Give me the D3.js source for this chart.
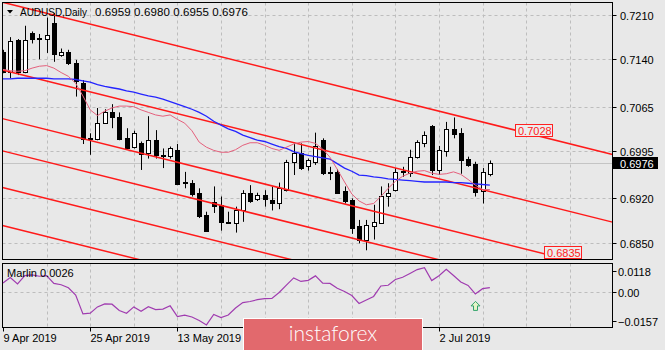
<!DOCTYPE html>
<html>
<head>
<meta charset="utf-8">
<script src="https://cdn.jsdelivr.net/npm/d3@7"></script>
<style>
  body { margin: 0; background: #e8e8e8; }
  svg { display: block; }
  text { font-family: "Liberation Sans", Arial, sans-serif; }
</style>
</head>
<body>
<script>
// AUDUSD daily bars, 9 Apr 2019 – 11 Jul 2019
const dates = [
  "2019-04-09","2019-04-10","2019-04-11","2019-04-12","2019-04-15","2019-04-16","2019-04-17","2019-04-18","2019-04-19","2019-04-22",
  "2019-04-23","2019-04-24","2019-04-25","2019-04-26","2019-04-29","2019-04-30","2019-05-01","2019-05-02","2019-05-03","2019-05-06",
  "2019-05-07","2019-05-08","2019-05-09","2019-05-10","2019-05-13","2019-05-14","2019-05-15","2019-05-16","2019-05-17","2019-05-20",
  "2019-05-21","2019-05-22","2019-05-23","2019-05-24","2019-05-27","2019-05-28","2019-05-29","2019-05-30","2019-05-31","2019-06-03",
  "2019-06-04","2019-06-05","2019-06-06","2019-06-07","2019-06-10","2019-06-11","2019-06-12","2019-06-13","2019-06-14","2019-06-17",
  "2019-06-18","2019-06-19","2019-06-20","2019-06-21","2019-06-24","2019-06-25","2019-06-26","2019-06-27","2019-06-28","2019-07-01",
  "2019-07-02","2019-07-03","2019-07-04","2019-07-05","2019-07-08","2019-07-09","2019-07-10","2019-07-11"
];
const open = [
  0.7152,0.7120,0.7170,0.7120,0.7181,0.7173,0.7172,0.7198,0.7148,0.7152,
  0.7134,0.7103,0.7015,0.7013,0.7039,0.7057,0.7048,0.7015,0.7001,0.7008,
  0.6992,0.7013,0.6989,0.6987,0.6997,0.6946,0.6945,0.6928,0.6894,0.6915,
  0.6910,0.6883,0.6882,0.6901,0.6929,0.6919,0.6926,0.6918,0.6913,0.6933,
  0.6978,0.6992,0.6970,0.6977,0.7012,0.6962,0.6962,0.6931,0.6918,0.6876,
  0.6854,0.6876,0.6882,0.6925,0.6933,0.6961,0.6961,0.6986,0.7008,0.7035,
  0.6965,0.6994,0.7030,0.7024,0.6982,0.6974,0.6931,0.6959
];
const high = [
  0.7155,0.7175,0.7172,0.7193,0.7184,0.7180,0.7206,0.7213,0.7157,0.7155,
  0.7139,0.7107,0.7023,0.7063,0.7061,0.7069,0.7056,0.7031,0.7027,0.7010,
  0.7050,0.7028,0.6999,0.7002,0.7006,0.6962,0.6949,0.6936,0.6899,0.6939,
  0.6923,0.6899,0.6907,0.6933,0.6941,0.6929,0.6933,0.6939,0.6945,0.6981,
  0.7007,0.7007,0.6983,0.7024,0.7015,0.6970,0.6966,0.6939,0.6920,0.6886,
  0.6886,0.6910,0.6939,0.6944,0.6968,0.6970,0.6997,0.7012,0.7026,0.7036,
  0.7003,0.7041,0.7048,0.7031,0.6986,0.6978,0.6968,0.6980
];
const low = [
  0.7118,0.7110,0.7115,0.7118,0.7165,0.7140,0.7150,0.7136,0.7144,0.7131,
  0.7081,0.7006,0.6989,0.7012,0.7038,0.7031,0.7012,0.6998,0.6999,0.6965,
  0.6983,0.6983,0.6968,0.6983,0.6941,0.6936,0.6923,0.6889,0.6867,0.6897,
  0.6869,0.6881,0.6866,0.6883,0.6913,0.6916,0.6907,0.6901,0.6903,0.6931,
  0.6957,0.6965,0.6964,0.6973,0.6957,0.6949,0.6928,0.6912,0.6864,0.6849,
  0.6838,0.6855,0.6881,0.6907,0.6931,0.6954,0.6954,0.6983,0.7001,0.6957,
  0.6957,0.6986,0.7015,0.6959,0.6970,0.6923,0.6912,0.6955
];
const close = [
  0.7120,0.7169,0.7120,0.7170,0.7172,0.7174,0.7178,0.7149,0.7152,0.7135,
  0.7105,0.7015,0.7016,0.7039,0.7056,0.7049,0.7013,0.6999,0.7023,0.6991,
  0.7012,0.6990,0.6988,0.6999,0.6944,0.6945,0.6928,0.6892,0.6869,0.6908,
  0.6883,0.6882,0.6902,0.6928,0.6916,0.6925,0.6919,0.6913,0.6936,0.6978,
  0.6992,0.6968,0.6980,0.7003,0.6960,0.6961,0.6929,0.6915,0.6873,0.6854,
  0.6878,0.6882,0.6924,0.6929,0.6962,0.6963,0.6986,0.7010,0.7020,0.6965,
  0.6996,0.7029,0.7022,0.6982,0.6973,0.6929,0.6961,0.6976
];
// slow moving average (blue)
const maSlow = [
  0.7109,0.7109,0.7110,0.7110,0.7110,0.7110,0.7110,0.7109,0.7109,0.7109,
  0.7108,0.7106,0.7104,0.7100,0.7097,0.7095,0.7093,0.7090,0.7088,0.7085,
  0.7082,0.7080,0.7077,0.7073,0.7069,0.7065,0.7061,0.7056,0.7050,0.7042,
  0.7036,0.7030,0.7026,0.7020,0.7016,0.7012,0.7010,0.7006,0.7002,0.6999,
  0.6994,0.6991,0.6988,0.6986,0.6984,0.6982,0.6975,0.6968,0.6963,0.6957,
  0.6956,0.6954,0.6953,0.6951,0.6950,0.6949,0.6948,0.6947,0.6946,0.6946,
  0.6946,0.6946,0.6945,0.6945,0.6944,0.6943,0.6942,0.6941
];
// fast moving average (pink)
const maFast = [
  0.7124,0.7122,0.7121,0.7122,0.7126,0.7129,0.7130,0.7126,0.7119,0.7113,
  0.7102,0.7082,0.7060,0.7051,0.7058,0.7063,0.7066,0.7066,0.7065,0.7060,
  0.7056,0.7052,0.7050,0.7052,0.7045,0.7039,0.7027,0.7009,0.7001,0.6996,
  0.6993,0.6993,0.6997,0.7004,0.7008,0.7008,0.7004,0.6999,0.6996,0.7001,
  0.7006,0.7009,0.7010,0.7007,0.6998,0.6985,0.6966,0.6946,0.6927,0.6916,
  0.6910,0.6912,0.6923,0.6936,0.6947,0.6955,0.6960,0.6963,0.6964,0.6960,
  0.6958,0.6959,0.6962,0.6958,0.6950,0.6941,0.6934,0.6934
];
// Marlin oscillator
const marlin = [
  0.0052,0.0082,0.0046,0.0092,0.0096,0.0089,0.0092,0.0049,0.0042,0.0025,
  -0.0015,-0.0120,-0.0116,-0.0081,-0.0064,-0.0066,-0.0101,-0.0116,-0.0081,-0.0105,
  -0.0080,-0.0096,-0.0093,-0.0075,-0.0135,-0.0127,-0.0137,-0.0156,-0.0181,-0.0123,
  -0.0140,-0.0126,-0.0087,-0.0057,-0.0051,-0.0041,-0.0035,-0.0034,-0.0001,0.0040,
  0.0080,0.0060,0.0066,0.0091,0.0050,0.0049,0.0022,0.0004,-0.0018,-0.0062,
  -0.0043,-0.0023,0.0035,0.0039,0.0071,0.0083,0.0104,0.0126,0.0136,0.0065,
  0.0092,0.0128,0.0093,0.0057,0.0038,-0.0009,0.0020,0.0026
];
const priceTicks = [0.7210, 0.7140, 0.7065, 0.6995, 0.6920, 0.6850];
const marlinTicks = [0.0118, 0.00, -0.0157];
// parallel channel lines: [bar, price] at two anchor bars
const channelLines = [
  [[0, 0.7230], [60, 0.7058]],
  [[0, 0.7123], [60, 0.6951]],
  [[0, 0.7046], [60, 0.6874]],
  [[0, 0.6995], [60, 0.6823]],
  [[0, 0.6937], [60, 0.6765]],
  [[0, 0.6877], [60, 0.6705]]
];
const levelLabels = [0.7028, 0.6835];
const signalBars = [65];

const W = 665, H = 350;
const L = 2.5, R = 612.5, mainTop = 2.5, mainBot = 259.5, subTop = 263.5, subBot = 327.5;
const banner = { x: 243.5, y: 318.5, w: 179, h: 34 };

const svg = d3.select("body").append("svg").attr("width", W).attr("height", H);
svg.append("rect").attr("width", W).attr("height", H).attr("fill", "#e8e8e8");

const x = d3.scaleLinear().domain([0, 60]).range([3, 439]);
const y = d3.scaleLinear().domain([0.6850, 0.7210]).range([242.7, 15]);
const ym = d3.scaleLinear().domain([-0.0157, 0.0118]).range([320.6, 271]);
const px = i => Math.round(x(i)) + 0.5;
const n = close.length;
const idx = d3.range(n);

const defs = svg.append("defs");
defs.append("clipPath").attr("id", "clipMain").append("rect")
  .attr("x", L).attr("y", mainTop).attr("width", R - L).attr("height", mainBot - mainTop);
defs.append("clipPath").attr("id", "clipSub").append("rect")
  .attr("x", L).attr("y", subTop).attr("width", R - L).attr("height", subBot - subTop);

const gridColor = "#bdbdbd";
// vertical grid every 6 bars
const vBars = d3.range(6, 84, 6);
[[mainTop, mainBot], [subTop, subBot]].forEach(([t, b]) => {
  svg.append("g").selectAll("line").data(vBars).join("line")
    .attr("x1", d => px(d)).attr("x2", d => px(d))
    .attr("y1", t).attr("y2", b)
    .attr("stroke", gridColor).attr("stroke-dasharray", "3,3");
});
// horizontal grid
svg.append("g").selectAll("line").data(priceTicks).join("line")
  .attr("x1", L).attr("x2", R)
  .attr("y1", d => Math.round(y(d)) + 0.5).attr("y2", d => Math.round(y(d)) + 0.5)
  .attr("stroke", gridColor).attr("stroke-dasharray", "3,3");
svg.append("line").attr("x1", L).attr("x2", R)
  .attr("y1", Math.round(ym(0)) + 0.5).attr("y2", Math.round(ym(0)) + 0.5)
  .attr("stroke", gridColor).attr("stroke-dasharray", "3,3");

// last price line
const last = n - 1;
svg.append("line").attr("x1", L).attr("x2", R)
  .attr("y1", Math.round(y(close[last])) + 0.5).attr("y2", Math.round(y(close[last])) + 0.5)
  .attr("stroke", "#c4c4c4");

const main = svg.append("g").attr("clip-path", "url(#clipMain)");

// candles
const cg = main.append("g");
cg.selectAll("line.wick").data(idx).join("line").attr("class", "wick")
  .attr("x1", px).attr("x2", px)
  .attr("y1", i => y(high[i])).attr("y2", i => y(low[i]))
  .attr("stroke", "#000");
cg.selectAll("rect.body").data(idx).join("rect").attr("class", "body")
  .attr("x", i => px(i) - 2)
  .attr("width", 4)
  .attr("y", i => Math.round(Math.min(y(open[i]), y(close[i]))) + 0.5)
  .attr("height", i => Math.max(0, Math.round(Math.abs(y(open[i]) - y(close[i])))))
  .attr("fill", i => close[i] >= open[i] ? "#fff" : "#000")
  .attr("stroke", "#000");

// channel lines
const xL = x.invert(L), xR = x.invert(R);
const at = (d, b) => { const [[b0, p0], [b1, p1]] = d; return p0 + (p1 - p0) * (b - b0) / (b1 - b0); };
main.append("g").selectAll("line").data(channelLines).join("line")
  .attr("x1", L).attr("x2", R)
  .attr("y1", d => y(at(d, xL)))
  .attr("y2", d => y(at(d, xR)))
  .attr("stroke", "#ff1a1a").attr("stroke-width", 1.5);

// moving averages
main.append("path").datum(maSlow)
  .attr("d", d3.line().x((d, i) => x(i)).y(d => y(d)))
  .attr("fill", "none").attr("stroke", "#2424ff").attr("stroke-width", 1.3);
main.append("path").datum(maFast)
  .attr("d", d3.line().x((d, i) => x(i)).y(d => y(d)))
  .attr("fill", "none").attr("stroke", "#e4607c").attr("stroke-width", 1);

// level labels on the channel
const labelBars = [70.45, 74.45];
levelLabels.forEach((v, k) => {
  const bx = Math.round(x(labelBars[k])) + 0.5, by = Math.round(y(v)) - 6 + 0.5;
  svg.append("rect").attr("x", bx).attr("y", by).attr("width", 37).attr("height", 12)
    .attr("fill", "#ececec").attr("stroke", "#ff2020");
  svg.append("text").attr("x", bx + 2.5).attr("y", by + 10)
    .attr("font-size", 11).attr("fill", "#ff2020").text(d3.format(".4f")(v));
});

// panel borders
svg.append("rect").attr("x", L).attr("y", mainTop).attr("width", R - L).attr("height", mainBot - mainTop)
  .attr("fill", "none").attr("stroke", "#000");
svg.append("rect").attr("x", L).attr("y", subTop).attr("width", R - L).attr("height", subBot - subTop)
  .attr("fill", "none").attr("stroke", "#000");

// price axis
const pa = svg.append("g");
priceTicks.forEach(v => {
  const yy = Math.round(y(v)) + 0.5;
  pa.append("line").attr("x1", R).attr("x2", R + 4).attr("y1", yy).attr("y2", yy).attr("stroke", "#000");
  pa.append("text").attr("x", 620).attr("y", yy + 4).attr("font-size", 11).attr("fill", "#000")
    .text(d3.format(".4f")(v));
});
// last price tag
{
  const yy = Math.round(y(close[last])) + 0.5;
  svg.append("rect").attr("x", 613).attr("y", yy - 6.5).attr("width", 45).attr("height", 12).attr("fill", "#000");
  svg.append("text").attr("x", 620).attr("y", yy + 4).attr("font-size", 11).attr("fill", "#fff")
    .text(d3.format(".4f")(close[last]));
}

// title
svg.append("path").attr("d", "M7,10 L13,10 L10,13.5 Z").attr("fill", "#000");
svg.append("text").attr("x", 20).attr("y", 16).attr("font-size", 11).attr("fill", "#000")
  .attr("textLength", 67).attr("lengthAdjust", "spacingAndGlyphs")
  .text("AUDUSD,Daily");
svg.append("text").attr("x", 95).attr("y", 16).attr("font-size", 11.5).attr("fill", "#000")
  .attr("textLength", 153).attr("lengthAdjust", "spacing")
  .text([open[last], high[last], low[last], close[last]].map(d3.format(".4f")).join(" "));

// Marlin sub-panel
const sub = svg.append("g").attr("clip-path", "url(#clipSub)");
sub.append("path").datum(marlin)
  .attr("d", d3.line().x((d, i) => x(i)).y(d => ym(d)))
  .attr("fill", "none").attr("stroke", "#a03cb0").attr("stroke-width", 1.2);
svg.append("text").attr("x", 7).attr("y", 277).attr("font-size", 11).attr("fill", "#000")
  .text("Marlin " + d3.format(".4f")(marlin[last]));
marlinTicks.forEach(v => {
  const yy = Math.round(ym(v)) + 0.5;
  svg.append("line").attr("x1", R).attr("x2", R + 4).attr("y1", yy).attr("y2", yy).attr("stroke", "#000");
  svg.append("text").attr("x", 618).attr("y", yy + 4).attr("font-size", 11).attr("fill", "#000")
    .text(v === 0 ? "0.00" : d3.format(".4f")(v));
});
// signal arrows
signalBars.forEach(b => {
  const cx = px(b), top = ym(marlin[b]) + 7.5;
  svg.append("path")
    .attr("d", `M${cx},${top} L${cx + 4.5},${top + 4.5} L${cx + 2},${top + 4.5} L${cx + 2},${top + 9} L${cx - 2},${top + 9} L${cx - 2},${top + 4.5} L${cx - 4.5},${top + 4.5} Z`)
    .attr("fill", "#e6f3c8").attr("stroke", "#2fa36a").attr("stroke-width", 1);
});

// time axis: ticks every 12 bars, labels only where the banner leaves room
const fmt = d3.timeFormat("%-d %b %Y"), parse = d3.timeParse("%Y-%m-%d");
const dateBars = d3.range(0, n, 12);
dateBars.forEach(b => {
  const xx = px(b);
  svg.append("line").attr("x1", xx).attr("x2", xx).attr("y1", subBot).attr("y2", subBot + 4).attr("stroke", "#000");
  const underBanner = xx > banner.x - 10 && xx < banner.x + banner.w;
  if (!underBanner) {
    svg.append("text").attr("x", xx).attr("y", 342).attr("font-size", 11).attr("fill", "#000")
      .text(fmt(parse(dates[b])));
  }
});

// banner
svg.append("rect").attr("x", banner.x).attr("y", banner.y).attr("width", banner.w).attr("height", banner.h)
  .attr("fill", "#e2696d").attr("stroke", "#fff");
svg.append("text").attr("x", banner.x + banner.w / 2).attr("y", 340.5).attr("text-anchor", "middle")
  .style("font-family", "Lato, 'Open Sans', sans-serif").style("font-weight", 300)
  .attr("font-size", 21).attr("fill", "#fff").text("instaforex");
</script>
</body>
</html>
